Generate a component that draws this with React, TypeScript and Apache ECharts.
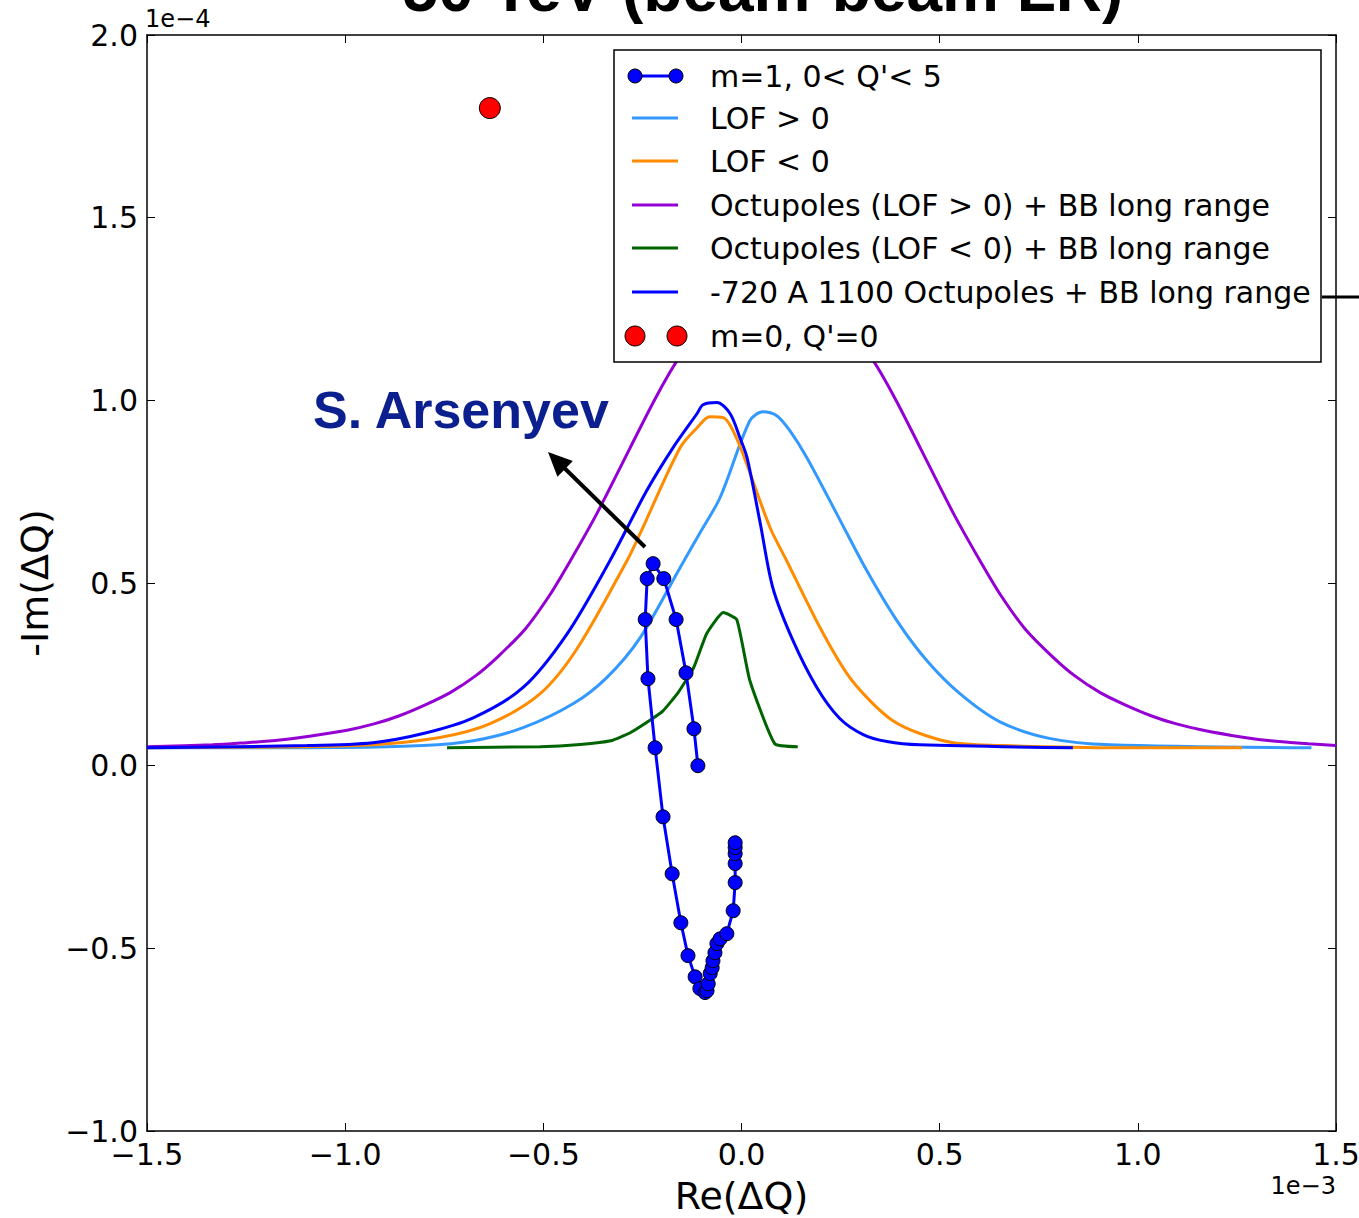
import React, { useEffect, useRef } from "react";
import * as echarts from "echarts";

// Units: Re in 1e-3, Im in 1e-4
const xTickValues = [-1.5, -1.0, -0.5, 0.0, 0.5, 1.0, 1.5];
const yTickValues = [-1.0, -0.5, 0.0, 0.5, 1.0, 1.5, 2.0];

const m1Re = [-0.110, -0.120, -0.140, -0.165, -0.196, -0.223, -0.238, -0.243, -0.236, -0.218, -0.198, -0.175, -0.153, -0.135, -0.117, -0.105, -0.092, -0.087, -0.084, -0.079, -0.074, -0.072, -0.067, -0.062, -0.054, -0.037, -0.021, -0.016, -0.016, -0.016, -0.016, -0.016];
const m1Im = [0.000, 0.101, 0.254, 0.400, 0.512, 0.553, 0.512, 0.400, 0.238, 0.049, -0.140, -0.296, -0.430, -0.520, -0.578, -0.610, -0.621, -0.616, -0.597, -0.569, -0.553, -0.534, -0.512, -0.487, -0.474, -0.460, -0.397, -0.320, -0.268, -0.241, -0.224, -0.211];

const lofPosRe = [-1.5, -1.096, -0.803, -0.677, -0.551, -0.424, -0.340, -0.256, -0.155, -0.105, -0.054, 0.021, 0.054, 0.089, 0.122, 0.165, 0.240, 0.316, 0.392, 0.468, 0.551, 0.652, 0.780, 0.930, 1.438];
const lofPosIm = [0.049, 0.049, 0.055, 0.068, 0.104, 0.170, 0.241, 0.350, 0.542, 0.637, 0.734, 0.944, 0.969, 0.958, 0.917, 0.843, 0.690, 0.534, 0.397, 0.287, 0.197, 0.120, 0.074, 0.057, 0.049];

const lofNegRe = [-1.5, -1.096, -0.930, -0.761, -0.634, -0.508, -0.415, -0.289, -0.256, -0.155, -0.112, -0.080, -0.047, -0.010, 0.072, 0.114, 0.198, 0.266, 0.324, 0.382, 0.450, 0.534, 0.660, 0.954, 1.263];
const lofNegIm = [0.049, 0.052, 0.057, 0.077, 0.115, 0.197, 0.320, 0.561, 0.635, 0.870, 0.925, 0.955, 0.953, 0.890, 0.652, 0.561, 0.378, 0.252, 0.178, 0.123, 0.088, 0.063, 0.055, 0.049, 0.049];

const octPosRe = [-1.5, -1.335, -1.26, -1.165, -1.095, -0.995, -0.925, -0.865, -0.795, -0.735, -0.672, -0.615, -0.545, -0.485, -0.435, -0.365, -0.281, -0.215, -0.155, -0.075, 0.005, 0.085, 0.165, 0.245, 0.325, 0.385, 0.451, 0.535, 0.605, 0.655, 0.715, 0.785, 0.842, 0.905, 0.965, 1.035, 1.095, 1.165, 1.265, 1.335, 1.43, 1.5];
const octPosIm = [0.052, 0.057, 0.062, 0.070, 0.080, 0.097, 0.115, 0.136, 0.168, 0.200, 0.245, 0.298, 0.375, 0.465, 0.555, 0.690, 0.870, 1.010, 1.120, 1.220, 1.265, 1.280, 1.265, 1.220, 1.120, 1.010, 0.870, 0.690, 0.555, 0.465, 0.375, 0.298, 0.245, 0.200, 0.168, 0.136, 0.115, 0.097, 0.078, 0.068, 0.060, 0.055];

const octNegRe = [-0.743, -0.508, -0.407, -0.330, -0.281, -0.230, -0.198, -0.160, -0.120, -0.088, -0.046, -0.012, 0.021, 0.084, 0.142];
const octNegIm = [0.049, 0.052, 0.058, 0.068, 0.090, 0.125, 0.150, 0.200, 0.270, 0.361, 0.419, 0.400, 0.233, 0.060, 0.052];

const octMixRe = [-1.5, -1.096, -0.930, -0.803, -0.677, -0.551, -0.440, -0.332, -0.239, -0.173, -0.112, -0.097, -0.062, -0.029, -0.004, 0.014, 0.047, 0.079, 0.130, 0.190, 0.248, 0.307, 0.367, 0.450, 0.836];
const octMixIm = [0.049, 0.055, 0.063, 0.088, 0.131, 0.214, 0.361, 0.561, 0.753, 0.870, 0.964, 0.988, 0.994, 0.964, 0.898, 0.843, 0.665, 0.487, 0.342, 0.214, 0.129, 0.085, 0.066, 0.057, 0.049];

const m0Re = [-0.635];
const m0Im = [1.80];

const legendLabels = [
  "m=1, 0< Q'< 5",
  "LOF > 0",
  "LOF < 0",
  "Octupoles (LOF > 0) + BB long range",
  "Octupoles (LOF < 0) + BB long range",
  "-720 A 1100 Octupoles + BB long range",
  "m=0, Q'=0",
];

const C_BLUE = "#0000ff";
const C_LIGHT = "#3399ff";
const C_ORANGE = "#ff8c00";
const C_PURPLE = "#9400d3";
const C_GREEN = "#006400";
const C_RED = "#ff0000";

const zip = (a: number[], b: number[]) => a.map((v, i) => [v, b[i]]);
const fmt = (v: number) => (v < 0 ? "\u2212" : "") + Math.abs(v).toFixed(1);

const FONT = "DejaVu Sans";

export default function App() {
  const ref = useRef<HTMLDivElement>(null);
  useEffect(() => {
    if (!ref.current) return;
    const chart = echarts.init(ref.current, undefined, { renderer: "svg" });

    const gridL = 147, gridR = 1336, gridT = 35, gridB = 1131;

    const axisLine = { show: true, onZero: false, lineStyle: { color: "#000", width: 1.5 } };
    const axisTick = { show: true, inside: true, length: 8, lineStyle: { color: "#000", width: 1 } };

    const lineSeries = (name: string, re: number[], im: number[], color: string, z: number, smooth: number) => ({
      name,
      type: "line",
      data: zip(re, im),
      symbol: "none",
      showSymbol: false,
      smooth,
      lineStyle: { color, width: 3 },
      itemStyle: { color },
      z,
      clip: true,
    });

    // legend graphic
    const lgX = 614, lgY = 50, lgW = 707, lgH = 312;
    const rowY = [76, 118, 161, 205, 248, 292, 336];
    const legendColors = [C_BLUE, C_LIGHT, C_ORANGE, C_PURPLE, C_GREEN, C_BLUE, C_RED];
    const legendEls: any[] = [
      { type: "rect", shape: { x: lgX, y: lgY, width: lgW, height: lgH }, style: { fill: "#fff", stroke: "#000", lineWidth: 1.5 }, z: 100 },
    ];
    rowY.forEach((y, i) => {
      if (i === 6) {
        legendEls.push({ type: "circle", shape: { cx: 635, cy: y, r: 10 }, style: { fill: C_RED, stroke: "#000", lineWidth: 1 }, z: 101 });
        legendEls.push({ type: "circle", shape: { cx: 677, cy: y, r: 10 }, style: { fill: C_RED, stroke: "#000", lineWidth: 1 }, z: 101 });
      } else {
        legendEls.push({ type: "line", shape: { x1: 632, y1: y, x2: 678, y2: y }, style: { stroke: legendColors[i], lineWidth: 3 }, z: 101 });
        if (i === 0) {
          legendEls.push({ type: "circle", shape: { cx: 635, cy: y, r: 7 }, style: { fill: C_BLUE, stroke: "#000", lineWidth: 1 }, z: 102 });
          legendEls.push({ type: "circle", shape: { cx: 676, cy: y, r: 7 }, style: { fill: C_BLUE, stroke: "#000", lineWidth: 1 }, z: 102 });
        }
      }
      legendEls.push({
        type: "text",
        x: 710,
        y,
        style: { text: legendLabels[i], fill: "#000", font: `30px "${FONT}"`, textAlign: "left", textVerticalAlign: "middle" },
        z: 102,
      });
    });

    // arrow
    const tip = [548, 452];
    const tail = [645, 547];
    const dx = tip[0] - tail[0], dy = tip[1] - tail[1];
    const len = Math.hypot(dx, dy);
    const ux = dx / len, uy = dy / len;
    const hl = 24, hw = 11;
    const bx = tip[0] - ux * hl, by = tip[1] - uy * hl;
    const px = -uy, py = ux;

    const option: any = {
      animation: false,
      backgroundColor: "#fff",
      grid: { left: gridL, right: 1359 - gridR, top: gridT, bottom: 1218 - gridB, containLabel: false, outerBoundsMode: "none" },
      xAxis: [
        {
          type: "value",
          min: -1.5,
          max: 1.5,
          interval: 0.5,
          position: "bottom",
          axisLine,
          axisTick,
          splitLine: { show: false },
          axisLabel: { formatter: fmt, fontSize: 30, fontFamily: FONT, color: "#000", margin: 8, showMinLabel: true, showMaxLabel: true },
          name: "Re(\u0394Q)",
          nameLocation: "middle",
          nameGap: 46,
          nameTextStyle: { fontSize: 38, fontFamily: FONT, color: "#000" },
        },
        {
          type: "value",
          min: -1.5,
          max: 1.5,
          interval: 0.5,
          position: "top",
          axisLine,
          axisTick,
          splitLine: { show: false },
          axisLabel: { show: false },
        },
      ],
      yAxis: [
        {
          type: "value",
          min: -1.0,
          max: 2.0,
          interval: 0.5,
          position: "left",
          axisLine,
          axisTick,
          splitLine: { show: false },
          axisLabel: { formatter: fmt, fontSize: 30, fontFamily: FONT, color: "#000", margin: 9, showMinLabel: true, showMaxLabel: true },
          name: "-Im(\u0394Q)",
          nameLocation: "middle",
          nameGap: 92,
          nameTextStyle: { fontSize: 38, fontFamily: FONT, color: "#000" },
        },
        {
          type: "value",
          min: -1.0,
          max: 2.0,
          interval: 0.5,
          position: "right",
          axisLine,
          axisTick,
          splitLine: { show: false },
          axisLabel: { show: false },
        },
      ],
      series: [
        lineSeries(legendLabels[1], lofPosRe, lofPosIm, C_LIGHT, 3, 0.3),
        lineSeries(legendLabels[2], lofNegRe, lofNegIm, C_ORANGE, 4, 0.3),
        lineSeries(legendLabels[3], octPosRe, octPosIm, C_PURPLE, 5, 0.3),
        lineSeries(legendLabels[4], octNegRe, octNegIm, C_GREEN, 6, 0.15),
        lineSeries(legendLabels[5], octMixRe, octMixIm, C_BLUE, 7, 0.3),
        {
          name: legendLabels[0],
          type: "line",
          data: zip(m1Re, m1Im),
          symbol: "circle",
          symbolSize: 14,
          showSymbol: true,
          lineStyle: { color: C_BLUE, width: 3 },
          itemStyle: { color: C_BLUE, borderColor: "#000", borderWidth: 1 },
          z: 8,
        },
        {
          name: legendLabels[6],
          type: "scatter",
          data: zip(m0Re, m0Im),
          symbol: "circle",
          symbolSize: 21,
          itemStyle: { color: C_RED, borderColor: "#000", borderWidth: 1, opacity: 1 },
          z: 9,
        },
      ],
      graphic: [
        {
          type: "text",
          x: 763,
          y: -11,
          style: { text: "50 TeV (beam-beam LR)", fill: "#000", font: 'bold 64px "Liberation Sans"', textAlign: "center", textVerticalAlign: "middle" },
          z: 110,
        },
        {
          type: "text",
          x: 145,
          y: 19,
          style: { text: "1e\u22124", fill: "#000", font: `24px "${FONT}"`, textAlign: "left", textVerticalAlign: "middle" },
          z: 110,
        },
        {
          type: "text",
          x: 1336,
          y: 1186,
          style: { text: "1e\u22123", fill: "#000", font: `24px "${FONT}"`, textAlign: "right", textVerticalAlign: "middle" },
          z: 110,
        },
        {
          type: "text",
          x: 313,
          y: 410,
          style: { text: "S. Arsenyev", fill: "#0b1f8f", font: 'bold 52px "Liberation Sans"', textAlign: "left", textVerticalAlign: "middle" },
          z: 110,
        },
        {
          type: "line",
          shape: { x1: tail[0], y1: tail[1], x2: bx + ux * 4, y2: by + uy * 4 },
          style: { stroke: "#000", lineWidth: 4 },
          z: 110,
        },
        {
          type: "polygon",
          shape: { points: [tip, [bx + px * hw, by + py * hw], [bx - px * hw, by - py * hw]] },
          style: { fill: "#000" },
          z: 110,
        },
        {
          type: "line",
          shape: { x1: 1322, y1: 297, x2: 1359, y2: 297 },
          style: { stroke: "#000", lineWidth: 3 },
          z: 110,
        },
        ...legendEls,
      ],
    };
    chart.setOption(option);
    return () => chart.dispose();
  }, []);
  return <div ref={ref} style={{ position: "absolute", left: 0, top: 0, width: 1359, height: 1218 }} />;
}
